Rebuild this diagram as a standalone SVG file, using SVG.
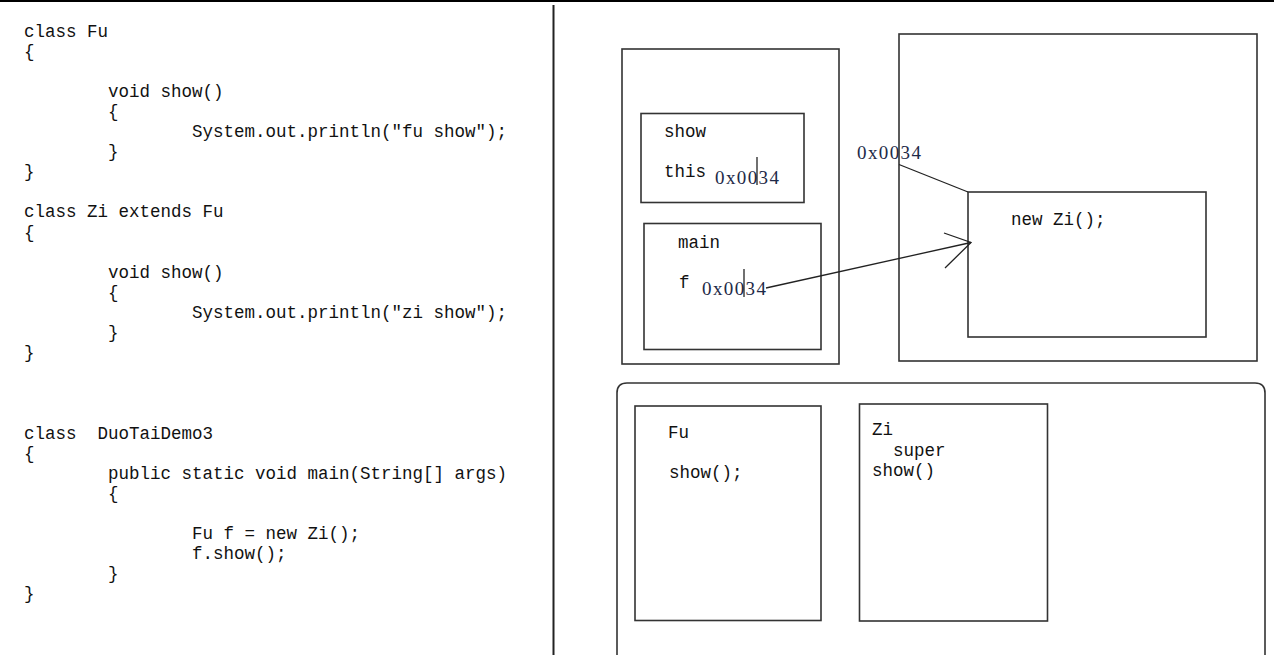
<svg xmlns="http://www.w3.org/2000/svg" width="1274" height="655" viewBox="0 0 1274 655">
<style>
.code{font-family:"Liberation Mono","DejaVu Sans Mono",monospace;font-size:17.5px;fill:#111;white-space:pre}
.addr{font-family:"Liberation Serif","DejaVu Serif",serif;font-size:19px;fill:#1e2a48}
.box{fill:none;stroke:#333;stroke-width:1.6}
.ln{fill:none;stroke:#222;stroke-width:1.3}
</style>
<rect x="0" y="0" width="1274" height="655" fill="#fff"/>
<rect x="0" y="0" width="1274" height="2" fill="#000"/>
<line x1="553.5" y1="5" x2="553.5" y2="655" stroke="#222" stroke-width="2"/>

<g id="code">
<text class="code" x="24" y="36.5">class Fu</text>
<text class="code" x="24" y="56.6">{</text>
<text class="code" x="108" y="96.8">void show()</text>
<text class="code" x="108" y="116.9">{</text>
<text class="code" x="192" y="137">System.out.println("fu show");</text>
<text class="code" x="108" y="157.1">}</text>
<text class="code" x="24" y="177.2">}</text>
<text class="code" x="24" y="217.4">class Zi extends Fu</text>
<text class="code" x="24" y="237.5">{</text>
<text class="code" x="108" y="277.7">void show()</text>
<text class="code" x="108" y="297.8">{</text>
<text class="code" x="192" y="317.9">System.out.println("zi show");</text>
<text class="code" x="108" y="338">}</text>
<text class="code" x="24" y="358.1">}</text>
<text class="code" x="24" y="438.5" xml:space="preserve">class  DuoTaiDemo3</text>
<text class="code" x="24" y="458.6">{</text>
<text class="code" x="108" y="478.7">public static void main(String[] args)</text>
<text class="code" x="108" y="498.8">{</text>
<text class="code" x="192" y="539">Fu f = new Zi();</text>
<text class="code" x="192" y="559.1">f.show();</text>
<text class="code" x="108" y="579.2">}</text>
<text class="code" x="24" y="599.3">}</text>
</g>

<g id="stack">
<rect class="box" x="622" y="49" width="217" height="315"/>
</g>
<g id="frame-show">
<rect class="box" x="641" y="113.5" width="163" height="89"/>
<text class="code" x="664" y="136.5">show</text>
<text class="code" x="664" y="176.5">this</text>
<text class="addr" x="715" y="183.5" textLength="64" lengthAdjust="spacing">0x0034</text>
<line x1="757" y1="157" x2="757" y2="185" stroke="#111" stroke-width="1.2"/>
</g>
<g id="frame-main">
<rect class="box" x="644" y="223.5" width="177" height="126"/>
<text class="code" x="678" y="248">main</text>
<text class="code" x="679" y="288">f</text>
<text class="addr" x="702" y="295" textLength="64" lengthAdjust="spacing">0x0034</text>
<line x1="744" y1="269" x2="744" y2="297" stroke="#111" stroke-width="1.2"/>
</g>

<g id="heap">
<text class="addr" x="857" y="158.5" textLength="64" lengthAdjust="spacing">0x0034</text>
<rect class="box" x="899" y="34" width="358" height="327"/>
</g>
<g id="zi-object">
<rect class="box" x="968" y="192" width="238" height="145"/>
<text class="code" x="1011" y="225">new Zi();</text>
</g>

<g id="method-area">
<path class="box" d="M617,655 V393 Q617,383 627,383 H1255 Q1265,383 1265,393 V655"/>
</g>
<g id="class-fu">
<rect class="box" x="635" y="406" width="186" height="214.5"/>
<text class="code" x="668" y="438">Fu</text>
<text class="code" x="669" y="478">show();</text>
</g>
<g id="class-zi">
<rect class="box" x="859.5" y="404" width="188" height="217"/>
<text class="code" x="872" y="435">Zi</text>
<text class="code" x="893" y="456">super</text>
<text class="code" x="872" y="476">show()</text>
</g>

<g id="connectors">
<line class="ln" x1="899" y1="164.5" x2="968" y2="192"/>
<line class="ln" x1="766" y1="288" x2="971" y2="242.5"/>
<path class="ln" d="M944,233 L971,242.5 L945,268"/>
</g>
</svg>
